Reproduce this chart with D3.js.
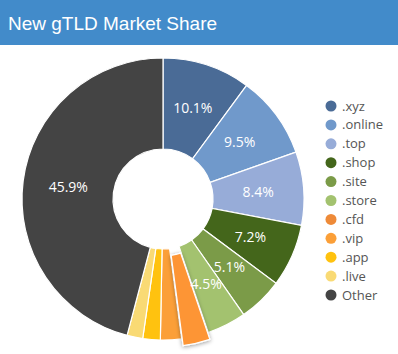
<!DOCTYPE html>
<html>
<head>
<meta charset="utf-8">
<script src="https://cdn.jsdelivr.net/npm/d3@7"></script>
<style>
  body { margin: 0; background: #fff; }
  svg { display: block; }
</style>
</head>
<body>
<svg id="chart" width="398" height="354"></svg>
<script>
// values
const tlds = ['.xyz', '.online', '.top', '.shop', '.site', '.store', '.cfd', '.vip', '.app', '.live', 'Other'];
const shares = [10.1, 9.5, 8.4, 7.2, 5.1, 4.5, 3.1, 2.4, 2.0, 1.8, 45.9];
const colors = ['#4a6b96', '#7099cb', '#97acd8', '#44661b', '#7b9b48', '#a3c26f', '#ee8a38', '#fb9f38', '#ffc20f', '#f9da74', '#444444'];
const highlighted = '.cfd';

const svg = d3.select('#chart');
const width = 398, height = 354;

// title bar
svg.append('rect').attr('x', 0).attr('y', 0).attr('width', width).attr('height', 45).attr('fill', '#428bca');
svg.append('text').attr('x', 8).attr('y', 30)
  .attr('font-family', 'Liberation Sans, Arial, sans-serif').attr('font-size', 19)
  .attr('fill', '#fff').text('New gTLD Market Share');

const cx = 163, cy = 199;
const rOuter = 141, rInner = 50;

const data = tlds.map((t, i) => ({ name: t, value: shares[i], color: colors[i] }));
const color = d3.scaleOrdinal().domain(tlds).range(colors);

const pie = d3.pie().value(d => d.value).sort(null);
const arc = d3.arc().innerRadius(rInner).outerRadius(rOuter);
const arcs = pie(data);

const defs = svg.append('defs');
const f = defs.append('filter').attr('id', 'shadow').attr('x', '-50%').attr('y', '-50%').attr('width', '200%').attr('height', '200%');
f.append('feDropShadow').attr('dx', 0).attr('dy', 1).attr('stdDeviation', 2).attr('flood-color', '#000').attr('flood-opacity', 0.4);

const g = svg.append('g').attr('transform', `translate(${cx},${cy})`);

const offset = 7;
g.selectAll('.slice').data(arcs.filter(d => d.data.name !== highlighted))
  .enter().append('path')
  .attr('class', 'slice')
  .attr('d', arc)
  .attr('fill', d => color(d.data.name))
  .attr('stroke', '#fff').attr('stroke-width', 1.2);

// exploded (hovered) slice
const hl = arcs.find(d => d.data.name === highlighted);
const mid = (hl.startAngle + hl.endAngle) / 2;
g.append('path')
  .attr('d', arc(hl))
  .attr('transform', `translate(${Math.sin(mid) * offset},${-Math.cos(mid) * offset})`)
  .attr('fill', '#fd9536')
  .attr('stroke', '#fff').attr('stroke-width', 1.2)
  .attr('filter', 'url(#shadow)');

// labels on big slices
g.selectAll('.lbl').data(arcs.filter(d => d.data.value >= 4.5))
  .enter().append('text')
  .attr('class', 'lbl')
  .attr('transform', d => `translate(${arc.centroid(d)})`)
  .attr('text-anchor', 'middle').attr('dy', '0.35em')
  .attr('font-family', 'Open Sans, sans-serif').attr('font-size', 14)
  .attr('fill', '#fff')
  .text(d => d3.format('.1f')(d.data.value) + '%');

// legend
const legendY = d3.scalePoint().domain(tlds).range([106, 295]);
const lg = svg.append('g');
const item = lg.selectAll('.item').data(tlds).enter().append('g')
  .attr('transform', d => `translate(331,${legendY(d)})`);
item.append('circle').attr('r', 5.5).attr('fill', d => color(d));
item.append('text').attr('x', 11).attr('dy', '0.35em')
  .attr('font-family', 'Open Sans, sans-serif').attr('font-size', 13)
  .attr('fill', '#555').text(d => d);
</script>
</body>
</html>
